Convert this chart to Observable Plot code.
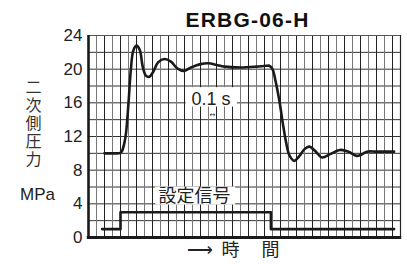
<!DOCTYPE html>
<html>
<head>
<meta charset="utf-8">
<script src="https://cdn.jsdelivr.net/npm/d3@7"></script>
<script src="https://cdn.jsdelivr.net/npm/@observablehq/plot@0.6"></script>
<style>
  html, body { margin: 0; padding: 0; background: #fff; }
  svg { display: block; }
</style>
</head>
<body>
<div id="chart"></div>
<script>
// ---- data ----
const titleText = "ERBG-06-H";
const yTicks = [0, 4, 8, 12, 16, 20, 24];
const xGridUnits = d3.range(1, 39);           // vertical grid lines (1 unit = 0.05 s)
const yGridUnits = [2, 4, 6, 8, 10, 12, 14, 16, 18, 20, 22];
// secondary pressure (MPa) vs time (grid units)
const pressT = [2, 3, 4, 4.2, 4.5, 4.7, 5.0, 5.3, 5.6, 6.0, 6.4, 6.8, 7.2, 7.6, 8.1, 8.7, 9.5, 10.3, 11.1, 11.9, 12.8, 14, 15, 16, 17, 19, 21, 22.2, 22.6, 23.0, 23.4, 23.9, 24.3, 24.7, 25.1, 25.7, 26.3, 27.0, 27.6, 28.3, 29.2, 30.2, 31.4, 32.5, 33.5, 34.0, 34.8, 36, 38.2];
const pressP = [10, 10, 10.05, 10.3, 11.3, 12.5, 16, 20, 22.2, 22.8, 22.3, 20.2, 19.2, 19.1, 19.7, 20.8, 21.2, 20.9, 20.1, 19.8, 20.2, 20.6, 20.7, 20.5, 20.3, 20.2, 20.3, 20.4, 20.4, 20.0, 18.5, 16, 13.5, 11.3, 9.8, 9.1, 9.6, 10.5, 10.8, 10.3, 9.5, 9.9, 10.4, 10.2, 9.7, 9.8, 10.2, 10.2, 10.2];
// setting signal (step)
const sigT = [1.7, 4.0, 22.8, 38.2];
const sigV = [1, 3, 1, 1];
// annotations
const boxLabels = ["0.1 s", "設定信号"];
const boxX1 = [12.2, 8.4];
const boxX2 = [18.6, 18.4];
const boxY1 = [15.5, 3.85];
const boxY2 = [17.8, 6.0];
const labelX = [15.3, 13.25];
const labelY = [16.45, 4.85];
const arrowLabel = "↔";
const arrowX = [15.5];
const arrowY = [14.6];
const yLabel = "二次側圧力";
const unitLabel = "MPa";
const xLabel = "⟶  時　 間";

const pressure = pressT.map((t, i) => ({t, p: pressP[i]}));
const signal = sigT.map((t, i) => ({t, v: sigV[i]}));
const boxes = boxLabels.map((s, i) => ({s, x1: boxX1[i], x2: boxX2[i], y1: boxY1[i], y2: boxY2[i], x: labelX[i], y: labelY[i]}));

const sans = "'Liberation Sans', Arial, sans-serif";
const cjk = "'Noto Sans CJK JP', sans-serif";

const chart = Plot.plot({
  width: 407,
  height: 264,
  marginLeft: 88,
  marginRight: 7,
  marginTop: 35,
  marginBottom: 27,
  x: {domain: [0, 39], axis: null},
  y: {domain: [0, 24], axis: null},
  style: {fontFamily: sans, background: "#fff"},
  marks: [
    Plot.ruleY(yGridUnits, {stroke: "#333", strokeWidth: 1}),
    Plot.ruleX(xGridUnits.filter(d => d % 2 === 0), {stroke: "#222", strokeWidth: 1}),
    Plot.ruleX(xGridUnits.filter(d => d % 2 === 1), {stroke: "#777", strokeWidth: 1}),
    Plot.ruleY([24], {stroke: "#555", strokeWidth: 1}),
    Plot.ruleX([39], {stroke: "#222", strokeWidth: 1.2}),
    Plot.rect(boxes, {x1: "x1", x2: "x2", y1: "y1", y2: "y2", fill: "#fff"}),
    Plot.text(boxes.slice(0, 1), {x: "x", y: "y", text: "s", fontSize: 18, fill: "#222", fontFamily: sans}),
    Plot.text(boxes.slice(1), {x: "x", y: "y", text: "s", fontSize: 18, fill: "#222", fontFamily: cjk}),
    Plot.text(arrowX, {x: d => d, y: arrowY[0], text: () => arrowLabel, fontSize: 7, fill: "#222", fontFamily: "DejaVu Sans"}),
    Plot.line(signal, {x: "t", y: "v", curve: "step-after", stroke: "#1a1a1a", strokeWidth: 2.6}),
    Plot.line(pressure, {x: "t", y: "p", curve: "catmull-rom", stroke: "#1a1a1a", strokeWidth: 2.6}),
    Plot.ruleX([0], {stroke: "#1a1a1a", strokeWidth: 2.6}),
    Plot.ruleY([0], {x1: -0.15, x2: 39.15, stroke: "#1a1a1a", strokeWidth: 3}),
    Plot.text(yTicks, {y: d => d, text: d => String(d), frameAnchor: "left", textAnchor: "end", dx: -6, fontSize: 17, fill: "#222", fontFamily: sans}),
    Plot.text([titleText], {frameAnchor: "top", textAnchor: "middle", lineAnchor: "middle", dx: 3, dy: -15, fontSize: 21, fontWeight: "bold", fill: "#111", fontFamily: sans, className: "ttl"}),
    Plot.text([yLabel], {frameAnchor: "left", textAnchor: "middle", lineAnchor: "middle", dx: -55, dy: -18, fontSize: 16, fill: "#333", fontFamily: cjk, className: "vlab"}),
    Plot.text([unitLabel], {frameAnchor: "left", textAnchor: "middle", lineAnchor: "middle", dx: -51, dy: 58, fontSize: 17, fill: "#222", fontFamily: sans}),
    Plot.text([xLabel], {frameAnchor: "bottom", textAnchor: "middle", lineAnchor: "middle", dx: -11, dy: 13, fontSize: 18, fill: "#222", fontFamily: cjk})
  ]
});
d3.select(chart).selectAll("g.ttl text").attr("letter-spacing", "1.2px");
d3.select(chart).selectAll("g.vlab text")
  .attr("writing-mode", "vertical-rl")
  .attr("letter-spacing", "2px")
  .attr("dy", null)
  .style("writing-mode", "vertical-rl")
  .style("text-orientation", "upright");
document.getElementById("chart").appendChild(chart);
</script>
</body>
</html>
